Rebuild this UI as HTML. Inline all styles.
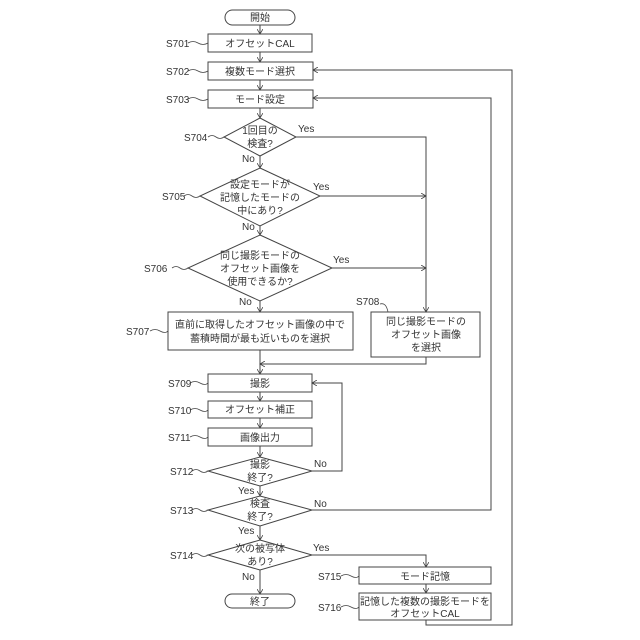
<!DOCTYPE html>
<html><head><meta charset="utf-8"><style>
body{margin:0;background:#fff}
svg{display:block}
text{font-family:"Liberation Sans","Noto Sans CJK JP",sans-serif;fill:#333;font-size:10px}
.t{text-anchor:middle}
</style></head><body>
<svg width="640" height="640" viewBox="0 0 640 640" xmlns="http://www.w3.org/2000/svg">
<defs><marker id="a" markerWidth="6" markerHeight="6" refX="5" refY="3" orient="auto"><path d="M0,0 L5,3 L0,6" fill="none" stroke="#444" stroke-width="0.8"/></marker></defs>
<g fill="none" stroke="#444" stroke-width="1">
<rect x="225" y="10" width="70" height="15" rx="7.5"/>
<rect x="208" y="34" width="104" height="18"/>
<rect x="208" y="62" width="105" height="18"/>
<rect x="208" y="90" width="105" height="18"/>
<polygon points="260,118 296,137 260,156 224,137"/>
<polygon points="260,168 320,196 260,226 200,196"/>
<polygon points="260,235 332,268 260,301 188,268"/>
<rect x="168" y="312" width="185" height="38"/>
<rect x="371" y="312" width="109" height="45"/>
<rect x="208" y="374" width="104" height="18"/>
<rect x="208" y="401" width="104" height="17"/>
<rect x="208" y="428" width="104" height="18"/>
<polygon points="260,457 312,471 260,486 208,471"/>
<polygon points="260,496 312,510 260,526 208,510"/>
<polygon points="260,540 312,555 260,570 208,555"/>
<rect x="359" y="567" width="132" height="17"/>
<rect x="359" y="593" width="132" height="27"/>
<rect x="225" y="594" width="70" height="14" rx="7"/>
<g marker-end="url(#a)">
<line x1="260" y1="25" x2="260" y2="34"/>
<line x1="260" y1="52" x2="260" y2="62"/>
<line x1="260" y1="80" x2="260" y2="90"/>
<line x1="260" y1="108" x2="260" y2="118"/>
<line x1="260" y1="156" x2="260" y2="168"/>
<line x1="260" y1="226" x2="260" y2="235"/>
<line x1="260" y1="301" x2="260" y2="312"/>
<line x1="260" y1="350" x2="260" y2="374"/>
<polyline points="296,137 426,137 426,312"/>
<line x1="320" y1="196" x2="426" y2="196"/>
<line x1="332" y1="268" x2="426" y2="268"/>
<polyline points="426,357 426,364 260,364"/>
<line x1="260" y1="392" x2="260" y2="401"/>
<line x1="260" y1="418" x2="260" y2="428"/>
<line x1="260" y1="446" x2="260" y2="457"/>
<polyline points="312,471 342,471 342,383 312,383"/>
<line x1="260" y1="486" x2="260" y2="496"/>
<polyline points="312,510 491,510 491,98 313,98"/>
<line x1="260" y1="526" x2="260" y2="540"/>
<polyline points="312,555 426,555 426,567"/>
<line x1="426" y1="584" x2="426" y2="593"/>
<polyline points="426,620 426,625 512,625 512,70 313,70"/>
<line x1="260" y1="570" x2="260" y2="594"/>
</g>
<g stroke-width="0.8">
<path d="M188,43 q5,-3 10,0 t10,0"/><path d="M188,71 q5,-3 10,0 t10,0"/><path d="M188,99 q5,-3 10,0 t10,0"/>
<path d="M208,137 q4,-3 8,0 t8,0"/><path d="M184,196 q4,-3 8,0 t8,0"/><path d="M172,268 q4,-3 8,0 t8,0"/>
<path d="M150,331 q5,-3 10,0 t8,0"/><path d="M380,304 q6,-2 8,8"/>
<path d="M190,383 q5,-3 10,0 t8,0"/><path d="M190,410 q5,-3 10,0 t8,0"/><path d="M190,437 q5,-3 10,0 t8,0"/>
<path d="M192,471 q4,-3 8,0 t8,0"/><path d="M192,510 q4,-3 8,0 t8,0"/><path d="M192,555 q4,-3 8,0 t8,0"/>
<path d="M341,576 q5,-3 10,0 t8,0"/><path d="M341,607 q5,-3 10,0 t8,0"/>
</g>
</g>
<text class="t" x="260" y="21">開始</text>
<text class="t" x="260" y="47">オフセットCAL</text>
<text class="t" x="260" y="75">複数モード選択</text>
<text class="t" x="260" y="103">モード設定</text>
<text class="t" x="260" y="134">1回目の</text><text class="t" x="260" y="147">検査?</text>
<text class="t" x="260" y="188">設定モードが</text><text class="t" x="260" y="201">記憶したモードの</text><text class="t" x="260" y="214">中にあり?</text>
<text class="t" x="260" y="259">同じ撮影モードの</text><text class="t" x="260" y="272">オフセット画像を</text><text class="t" x="260" y="285">使用できるか?</text>
<text class="t" x="260" y="328">直前に取得したオフセット画像の中で</text><text class="t" x="260" y="342">蓄積時間が最も近いものを選択</text>
<text class="t" x="426" y="325">同じ撮影モードの</text><text class="t" x="426" y="338">オフセット画像</text><text class="t" x="426" y="351">を選択</text>
<text class="t" x="260" y="387">撮影</text>
<text class="t" x="260" y="413">オフセット補正</text>
<text class="t" x="260" y="441">画像出力</text>
<text class="t" x="260" y="468">撮影</text><text class="t" x="260" y="481">終了?</text>
<text class="t" x="260" y="507">検査</text><text class="t" x="260" y="520">終了?</text>
<text class="t" x="260" y="552">次の被写体</text><text class="t" x="260" y="565">あり?</text>
<text class="t" x="425" y="580">モード記憶</text>
<text class="t" x="425" y="605">記憶した複数の撮影モードを</text><text class="t" x="425" y="617">オフセットCAL</text>
<text class="t" x="260" y="605">終了</text>
<text x="298" y="132">Yes</text><text x="313" y="190">Yes</text><text x="333" y="263">Yes</text>
<text x="242" y="162">No</text><text x="242" y="230">No</text><text x="239" y="305">No</text>
<text x="314" y="467">No</text><text x="314" y="507">No</text>
<text x="238" y="494">Yes</text><text x="238" y="534">Yes</text>
<text x="313" y="551">Yes</text><text x="242" y="580">No</text>
<text x="166" y="47">S701</text><text x="166" y="75">S702</text><text x="166" y="103">S703</text>
<text x="184" y="141">S704</text><text x="162" y="200">S705</text><text x="144" y="272">S706</text>
<text x="126" y="335">S707</text><text x="356" y="305">S708</text>
<text x="168" y="387">S709</text><text x="168" y="414">S710</text><text x="168" y="441">S711</text>
<text x="170" y="475">S712</text><text x="170" y="514">S713</text><text x="170" y="559">S714</text>
<text x="318" y="580">S715</text><text x="318" y="611">S716</text>
</svg>
</body></html>
